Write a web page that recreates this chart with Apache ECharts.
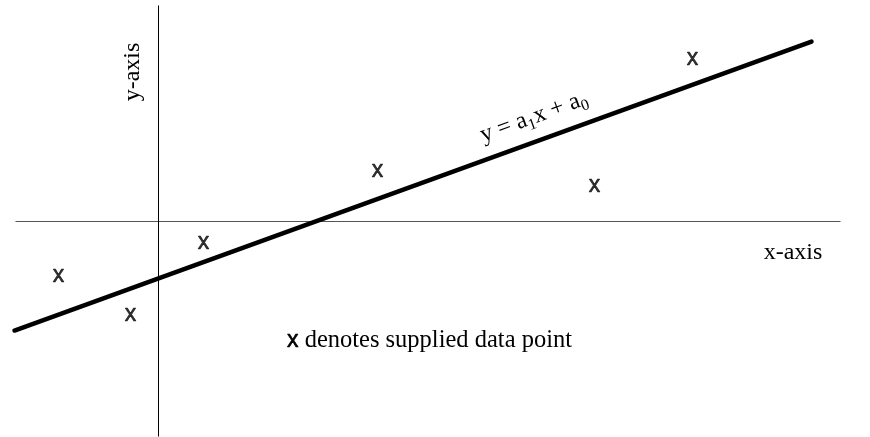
<!DOCTYPE html>
<html>
<head>
<meta charset="utf-8" />
<title>least squares line</title>
<script src="https://cdn.jsdelivr.net/npm/echarts@6/dist/echarts.min.js"></script>
<style>
  html, body { margin: 0; padding: 0; background: #fff; }
  #main { width: 870px; height: 437px; }
</style>
</head>
<body>
<div id="main"></div>
<script>
// supplied data points (x, y), origin where the axes cross
var pointsX = [-100, -28, 45, 219, 436, 534];
var pointsY = [-54, -93, -21, 51, 36, 163];
// fitted line y = a1*x + a0, drawn between two x values
var a1 = 0.3626;
var a0 = -56.8;
var lineX = [-144, 653];
// the drawn axes
var xAxisSpan = [-143, 682];
var yAxisSpan = [-215, 216];

var pts = pointsX.map(function (x, i) { return [x, pointsY[i]]; });
var fit = lineX.map(function (x) { return [x, a1 * x + a0]; });

var chart = echarts.init(document.getElementById('main'));
var serif = '"Liberation Serif", "Times New Roman", serif';
var sans = '"Liberation Sans", Arial, sans-serif';
chart.setOption({
  animation: false,
  grid: { left: 0, right: 0, top: 0, bottom: 0 },
  xAxis: { type: 'value', min: -158.5, max: 711.5, show: false },
  yAxis: { type: 'value', min: -215.5, max: 221.5, show: false },
  series: [
    {
      type: 'line', symbol: 'none',
      lineStyle: { color: '#555', width: 1 },
      data: [[xAxisSpan[0], 0], [xAxisSpan[1], 0]]
    },
    {
      type: 'line', symbol: 'none',
      lineStyle: { color: '#000', width: 1 },
      data: [[0, yAxisSpan[0]], [0, yAxisSpan[1]]]
    },
    {
      type: 'line', symbol: 'none',
      lineStyle: { color: '#000', width: 4.5, cap: 'round' },
      data: fit
    },
    {
      type: 'scatter', symbolSize: 1,
      itemStyle: { color: 'rgba(0,0,0,0)' },
      label: {
        show: true, position: 'inside', formatter: 'x',
        color: '#000', fontSize: 23, offset: [0, 0],
        textBorderColor: '#000', textBorderWidth: 0.6,
        fontFamily: sans
      },
      data: pts
    }
  ],
  graphic: [
    {
      type: 'text', x: 133, y: 72, rotation: Math.PI / 2,
      style: { text: 'y-axis', font: '24px ' + serif, fill: '#000', align: 'center', verticalAlign: 'middle' }
    },
    {
      type: 'text', x: 793, y: 253,
      style: { text: 'x-axis', font: '24px ' + serif, fill: '#000', align: 'center', verticalAlign: 'middle' }
    },
    {
      type: 'text', x: 287, y: 341,
      style: {
        text: '{s|x} denotes supplied data point',
        font: '24.5px ' + serif, fill: '#000', align: 'left', verticalAlign: 'middle',
        rich: { s: { fontFamily: sans, fontSize: 23, stroke: '#000', lineWidth: 0.6 } }
      }
    },
    {
      type: 'text', x: 534, y: 117, rotation: Math.atan(a1),
      style: {
        text: '{n|y = a}{s|1}{n|x + a}{s|0}',
        fill: '#000', align: 'center', verticalAlign: 'middle',
        rich: {
          n: { font: '24px ' + serif, verticalAlign: 'middle', lineHeight: 30 },
          s: { font: '16px ' + serif, verticalAlign: 'bottom', lineHeight: 16 }
        }
      }
    }
  ]
});
</script>
</body>
</html>
